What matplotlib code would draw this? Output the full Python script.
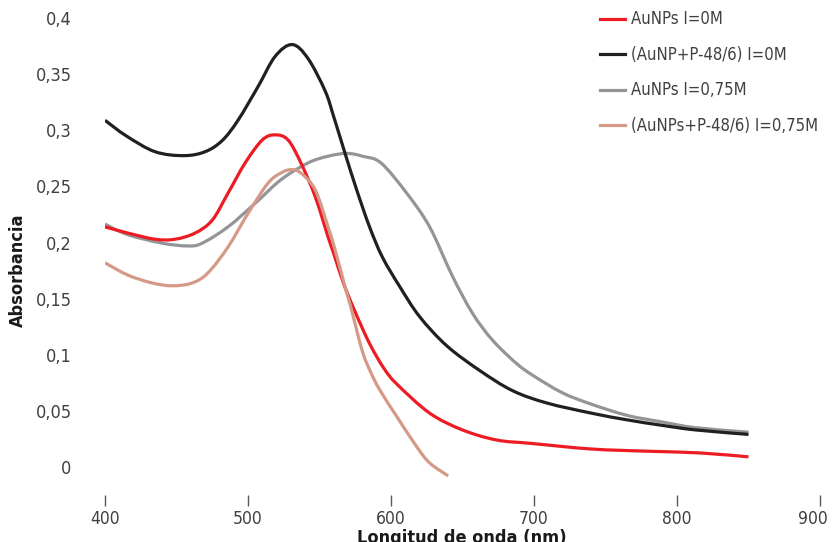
import matplotlib
matplotlib.use('Agg')
import matplotlib.pyplot as plt
import matplotlib.transforms as mtransforms
from matplotlib.path import Path
from matplotlib.patches import PathPatch
from matplotlib.lines import Line2D

plt.rcParams['font.family'] = ['DejaVu Sans']
plt.rcParams['font.stretch'] = 'condensed'

# data
wl_black = [400, 415, 435, 455, 470, 482, 493, 507, 519, 531, 542, 554, 560, 568, 576, 585,
            594, 606, 620, 639, 662, 685, 709, 740, 765, 790, 813, 850]
abs_black = [0.309, 0.295, 0.281, 0.2775, 0.281, 0.291, 0.309, 0.339, 0.366, 0.3765, 0.364, 0.335,
             0.312, 0.279, 0.247, 0.214, 0.187, 0.161, 0.134, 0.108, 0.086, 0.068, 0.057, 0.048,
             0.042, 0.037, 0.033, 0.029]

wl_gray = [400, 416, 440, 458, 468, 486, 505, 523, 542, 556, 569, 580, 593, 611, 627, 643, 657,
           671, 688, 700, 720, 740, 765, 790, 813, 850]
abs_gray = [0.2165, 0.207, 0.1995, 0.197, 0.1995, 0.214, 0.235, 0.256, 0.271, 0.277, 0.2795, 0.277,
            0.271, 0.244, 0.214, 0.170, 0.137, 0.113, 0.092, 0.081, 0.066, 0.056, 0.046, 0.040,
            0.035, 0.031]

wl_red = [400, 416, 435, 449, 463, 475, 486, 498, 510, 519, 528, 537, 547, 556, 560, 567, 575,
          585, 595, 604, 627, 650, 674, 698, 740, 780, 816, 850]
abs_red = [0.214, 0.2085, 0.203, 0.203, 0.2085, 0.220, 0.244, 0.271, 0.2915, 0.296, 0.2915, 0.271,
           0.241, 0.205, 0.190, 0.163, 0.138, 0.110, 0.088, 0.074, 0.048, 0.033, 0.024, 0.021,
           0.016, 0.014, 0.0125, 0.009]

wl_peach = [400, 416, 433, 447, 461, 472, 486, 500, 514, 523, 530, 537, 547, 556, 561, 568, 572,
            580, 586, 592, 604, 618, 627, 640]
abs_peach = [0.182, 0.171, 0.164, 0.1615, 0.164, 0.173, 0.196, 0.226, 0.253, 0.262, 0.265, 0.262,
             0.247, 0.214, 0.193, 0.160, 0.142, 0.103, 0.084, 0.069, 0.045, 0.018, 0.0036, -0.008]

labels = ['AuNPs I=0M', '(AuNP+P-48/6) I=0M', 'AuNPs I=0,75M', '(AuNPs+P-48/6) I=0,75M']
colors = ['#ED1C24', '#231F20', '#939598', '#D49A87']

yticks = [0, 0.05, 0.1, 0.15, 0.2, 0.25, 0.3, 0.35, 0.4]
ytick_labels = ['0', '0,05', '0,1', '0,15', '0,2', '0,25', '0,3', '0,35', '0,4']
xticks = [400, 500, 600, 700, 800, 900]


def smooth_path(xs, ys):
    # smoothed line like the spreadsheet one: Catmull-Rom segments as cubic Beziers
    verts = [(xs[0], ys[0])]
    codes = [Path.MOVETO]
    n = len(xs)
    for i in range(n - 1):
        x0, y0 = (xs[i - 1], ys[i - 1]) if i > 0 else (xs[i], ys[i])
        x1, y1 = xs[i], ys[i]
        x2, y2 = xs[i + 1], ys[i + 1]
        x3, y3 = (xs[i + 2], ys[i + 2]) if i + 2 < n else (x2, y2)
        verts += [(x1 + (x2 - x0) / 6, y1 + (y2 - y0) / 6),
                  (x2 - (x3 - x1) / 6, y2 - (y3 - y1) / 6),
                  (x2, y2)]
        codes += [Path.CURVE4] * 3
    return Path(verts, codes)


fig = plt.figure(figsize=(8.32, 5.42), dpi=100)
ax = fig.add_axes([105/832, 1 - 495/542, 715/832, 488/542])

lw = 2.3
series = [(wl_red, abs_red, 3), (wl_black, abs_black, 2), (wl_gray, abs_gray, 1),
          (wl_peach, abs_peach, 4)]
handles = []
for (xs, ys, z), c, lab in zip(series, colors, labels):
    ax.add_patch(PathPatch(smooth_path(xs, ys), facecolor='none', edgecolor=c, lw=lw,
                           capstyle='butt', zorder=z))
    handles.append(Line2D([], [], color=c, lw=lw, label=lab))

ax.set_xlim(400, 900)
ax.set_ylim(-0.025, 0.41)
for s in ax.spines.values():
    s.set_visible(False)

ax.set_yticks(yticks)
ax.set_yticklabels(ytick_labels)
ax.set_xticks(xticks)
ax.tick_params(axis='y', length=0, pad=24, labelsize=13, labelcolor='#404040')
ax.tick_params(axis='x', length=8, width=1, color='#595959', pad=3, labelsize=12.5,
               labelcolor='#404040')
# last x label sits at the edge, nudge it in a little
last = ax.get_xticklabels()[-1]
last.set_transform(last.get_transform() + mtransforms.ScaledTranslation(-5/72, 0, fig.dpi_scale_trans))

fig.text(18/832, 1 - 270/542, 'Absorbancia', rotation=90, ha='center', va='center',
         fontsize=13, fontweight='bold', color='#1a1a1a')
fig.text(462/832, 1 - 529/542, 'Longitud de onda (nm)', ha='center', va='top',
         fontsize=13, fontweight='bold', color='#1a1a1a')

leg = ax.legend(handles=handles, loc='upper left', bbox_to_anchor=(592/832, 1 - 2/542),
                bbox_transform=fig.transFigure, frameon=False, fontsize=12,
                handlelength=1.5, handletextpad=0.35, labelspacing=1.05, borderpad=0)
for t in leg.get_texts():
    t.set_color('#404040')

fig.savefig('out.png', dpi=100)
